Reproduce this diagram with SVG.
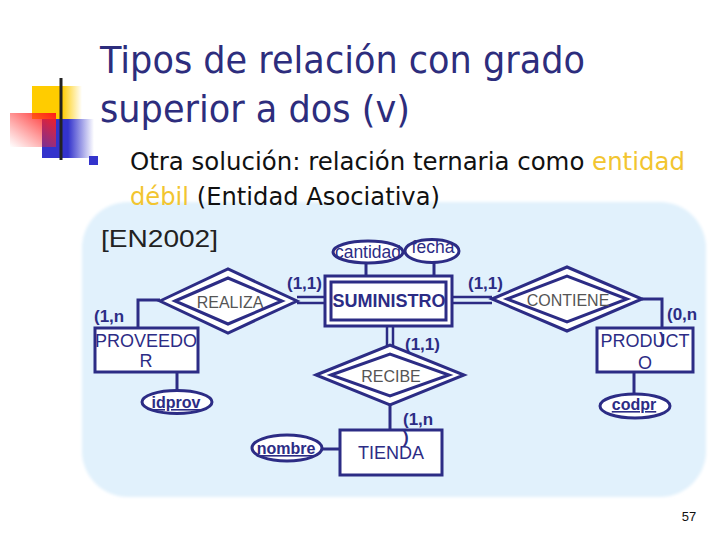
<svg xmlns="http://www.w3.org/2000/svg" width="720" height="540" viewBox="0 0 720 540">
<defs>
<linearGradient id="gy" x1="0" y1="0" x2="1" y2="0"><stop offset="0" stop-color="#FFCC00"/><stop offset="0.6" stop-color="#FFCC00"/><stop offset="1" stop-color="#FFCC00" stop-opacity="0"/></linearGradient>
<linearGradient id="gb" x1="0" y1="0" x2="1" y2="0"><stop offset="0" stop-color="#3333CC"/><stop offset="0.5" stop-color="#3333CC"/><stop offset="1" stop-color="#3333CC" stop-opacity="0"/></linearGradient>
<linearGradient id="gr" x1="0" y1="1" x2="1" y2="0"><stop offset="0" stop-color="#FF3333" stop-opacity="0"/><stop offset="1" stop-color="#FF1A1A"/></linearGradient>
<linearGradient id="gl" x1="0" y1="0" x2="1" y2="0"><stop offset="0" stop-color="#333333"/><stop offset="0.3" stop-color="#777777"/><stop offset="1" stop-color="#dddddd" stop-opacity="0.3"/></linearGradient>
<filter id="soft" x="-5%" y="-5%" width="110%" height="110%"><feGaussianBlur stdDeviation="1.5"/></filter>
</defs>
<style>
.ln{stroke:#2C2C85;stroke-width:3;fill:none}
.ln2{stroke:#2C2C85;stroke-width:2.5;fill:none}
.box{stroke:#2C2C85;stroke-width:3;fill:#ffffff}
.ent{font-family:"Liberation Sans",Arial,sans-serif;font-size:18px;fill:#2C2C85;text-anchor:middle}
.rel{font-family:"Liberation Sans",Arial,sans-serif;font-size:16px;fill:#555555;text-anchor:middle}
.att{font-family:"Liberation Sans",Arial,sans-serif;font-size:17.5px;fill:#2C2C85;text-anchor:middle}
.key{font-family:"Liberation Sans",Arial,sans-serif;font-size:16px;font-weight:bold;fill:#2C2C85;text-anchor:middle;text-decoration:underline}
.card{font-family:"Liberation Sans",Arial,sans-serif;font-size:17px;font-weight:bold;fill:#2C2C85}
.title{font-family:"DejaVu Sans",Verdana,sans-serif;font-size:38px;fill:#2D2D7D}
.body{font-family:"DejaVu Sans",Verdana,sans-serif;font-size:25px;fill:#111111}
.hl{fill:#F2C530}
</style>
<rect width="720" height="540" fill="#ffffff"/>
<rect id="panel" x="82" y="202" width="624" height="295" rx="46" ry="46" fill="#E1F1FC" filter="url(#soft)"/>
<g id="logo">
<rect x="32" y="86" width="50" height="33" fill="url(#gy)"/>
<rect x="42" y="119" width="52" height="39" fill="url(#gb)"/>
<rect x="10" y="113" width="46" height="34" fill="url(#gr)"/>
<line x1="61" y1="78" x2="61" y2="160" stroke="#222222" stroke-width="3"/>
<line x1="33" y1="141" x2="715" y2="141" stroke="url(#gl)" stroke-width="3"/>
</g>
<g id="title">
<text class="title" x="100" y="73" textLength="485" lengthAdjust="spacingAndGlyphs">Tipos de relación con grado</text>
<text class="title" x="100" y="122" textLength="310" lengthAdjust="spacingAndGlyphs">superior a dos (v)</text>
</g>
<g id="bullet">
<rect x="89" y="156" width="9" height="9" fill="#3333CC"/>
<text class="body" x="130" y="170" textLength="555" lengthAdjust="spacingAndGlyphs">Otra solución: relación ternaria como <tspan class="hl">entidad</tspan></text>
<text class="body" x="130" y="205" textLength="310" lengthAdjust="spacingAndGlyphs"><tspan class="hl">débil</tspan> (Entidad Asociativa)</text>
</g>
<text id="ref" x="101" y="247" font-family="Liberation Sans, Arial, sans-serif" font-size="24" fill="#222222" textLength="117" lengthAdjust="spacingAndGlyphs">[EN2002]</text>

<g id="connectors">
<line class="ln" x1="366" y1="263" x2="366" y2="276"/>
<line class="ln" x1="434" y1="262" x2="434" y2="276"/>
<line class="ln2" x1="297" y1="297" x2="325" y2="297"/>
<line class="ln2" x1="297" y1="303" x2="325" y2="303"/>
<line class="ln2" x1="452" y1="297" x2="492" y2="297"/>
<line class="ln2" x1="452" y1="303" x2="492" y2="303"/>
<line class="ln2" x1="387" y1="326" x2="387" y2="347"/>
<line class="ln2" x1="393" y1="326" x2="393" y2="347"/>
<polyline class="ln" points="160,300 138,300 138,328"/>
<polyline class="ln" points="642,299 662,299 662,328"/>
<line class="ln" x1="177" y1="372" x2="177" y2="391"/>
<line class="ln" x1="634" y1="372" x2="634" y2="394"/>
<line class="ln" x1="390" y1="405" x2="390" y2="430"/>
<line class="ln" x1="322" y1="449" x2="340" y2="449"/>
</g>

<g id="cantidad">
<ellipse class="box" cx="368" cy="252" rx="35" ry="11"/>
<text class="att" x="368" y="258">cantidad</text>
</g>
<g id="fecha">
<ellipse class="box" cx="432" cy="251" rx="27" ry="11.5"/>
<text class="att" x="433" y="253">fecha</text>
</g>
<g id="suministro">
<rect class="box" x="325" y="276" width="127" height="50"/>
<rect class="box" x="331" y="282" width="115" height="38"/>
<text class="ent" x="389" y="307" font-weight="bold" textLength="113" lengthAdjust="spacingAndGlyphs">SUMINISTRO</text>
</g>
<g id="realiza">
<polygon class="box" points="160,301 228,269 297,301 228,333"/>
<polygon class="box" points="175,301 228,278 282,301 228,324"/>
<text class="rel" x="230" y="308">REALIZA</text>
</g>
<g id="contiene">
<polygon class="box" points="492,299 567,267 642,299 567,331"/>
<polygon class="box" points="507,299 567,276 627,299 567,322"/>
<text class="rel" x="568" y="306">CONTIENE</text>
</g>
<g id="recibe">
<polygon class="box" points="316,375 390,345 464,375 390,405"/>
<polygon class="box" points="331,375 390,354 449,375 390,396"/>
<text class="rel" x="391" y="382">RECIBE</text>
</g>
<g id="proveedor">
<rect class="box" x="95" y="328" width="103" height="44"/>
<text class="ent" x="146" y="347">PROVEEDO</text>
<text class="ent" x="146" y="367">R</text>
</g>
<g id="producto">
<rect class="box" x="597" y="328" width="96" height="44"/>
<text class="ent" x="645" y="347">PRODUCT</text>
<text class="ent" x="645" y="369">O</text>
</g>
<g id="tienda">
<rect class="box" x="340" y="430" width="102" height="45"/>
<text class="ent" x="391" y="459">TIENDA</text>
</g>
<g id="idprov">
<ellipse class="box" cx="177" cy="402" rx="35" ry="11.5"/>
<text class="key" x="176" y="408">idprov</text>
</g>
<g id="nombre">
<ellipse class="box" cx="287" cy="448" rx="35" ry="13"/>
<text class="key" x="286" y="454">nombre</text>
</g>
<g id="codpr">
<ellipse class="box" cx="635" cy="406" rx="35" ry="12"/>
<text class="key" x="634" y="410">codpr</text>
</g>
<g id="cards">
<text class="card" x="287" y="289">(1,1)</text>
<text class="card" x="468" y="289">(1,1)</text>
<text class="card" x="405" y="350">(1,1)</text>
<text class="card" x="94" y="322">(1,n</text>
<text class="card" x="667" y="320">(0,n</text>
<text class="card" x="659" y="344">)</text>
<text class="card" x="403" y="425">(1,n</text>
<text class="card" x="403" y="443">)</text>
</g>
<text id="page" x="689" y="521" font-family="Liberation Sans, Arial, sans-serif" font-size="13" fill="#111111" text-anchor="middle">57</text>
</svg>
